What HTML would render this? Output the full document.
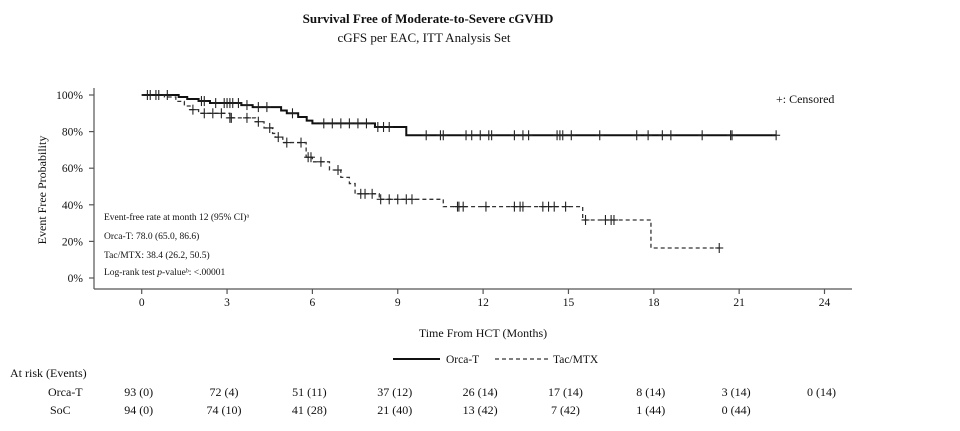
<!DOCTYPE html>
<html><head><meta charset="utf-8"><style>
html,body{margin:0;padding:0;background:#fff;width:960px;height:431px;overflow:hidden}
svg{display:block}
text{font-family:"Liberation Serif",serif;fill:#111}
</style></head><body>
<svg id="s" width="960" height="431" viewBox="0 0 960 431" xmlns="http://www.w3.org/2000/svg">
<text x="428" y="23" text-anchor="middle" font-size="13" font-weight="bold">Survival Free of Moderate-to-Severe cGVHD</text>
<text x="424" y="42" text-anchor="middle" font-size="13">cGFS per EAC, ITT Analysis Set</text>
<g stroke="#555" stroke-width="1.2" fill="none">
<line x1="94" y1="88" x2="94" y2="289"/>
<line x1="94" y1="289" x2="852" y2="289"/>
</g>
<g id="yt" font-size="11.5" text-anchor="end"></g>
<g id="xt" font-size="11.5" text-anchor="middle"></g>
<text transform="translate(46,190) rotate(-90)" text-anchor="middle" font-size="12">Event Free Probability</text>
<text x="483" y="337" text-anchor="middle" font-size="12">Time From HCT (Months)</text>
<text x="776" y="103" font-size="12">+: Censored</text>
<g font-size="9.5">
<text x="104" y="220">Event-free rate at month 12 (95% CI)ᵃ</text>
<text x="104" y="239">Orca-T: 78.0 (65.0, 86.6)</text>
<text x="104" y="258">Tac/MTX: 38.4 (26.2, 50.5)</text>
<text x="104" y="275">Log-rank test <tspan font-style="italic">p</tspan>-valueᵇ: &lt;.00001</text>
</g>
<path id="orca" fill="none" stroke="#111" stroke-width="2"/>
<path id="tac" fill="none" stroke="#333" stroke-width="1.3" stroke-dasharray="4,3"/>
<g id="cens" stroke="#222" stroke-width="1.1"></g>
<line x1="393" y1="359" x2="440" y2="359" stroke="#111" stroke-width="2"/>
<text x="446" y="363" font-size="11.5">Orca-T</text>
<line x1="495" y1="359" x2="548" y2="359" stroke="#333" stroke-width="1.3" stroke-dasharray="4,3"/>
<text x="553" y="363" font-size="11.5">Tac/MTX</text>
<g font-size="12">
<text x="10" y="377">At risk (Events)</text>
<text x="48" y="396">Orca-T</text>
<text x="50" y="414">SoC</text>
</g>
<g id="risk" font-size="12" text-anchor="middle"></g>
</svg>
<script>
var NS="http://www.w3.org/2000/svg";
function X(m){return 141.7+28.45*m}
function Y(p){return 278-1.83*p}
function el(parent,tag,attrs,txt){var e=document.createElementNS(NS,tag);for(var k in attrs)e.setAttribute(k,attrs[k]);if(txt!==undefined)e.textContent=txt;document.getElementById(parent).appendChild(e);return e}
[0,20,40,60,80,100].forEach(function(p){var y=Y(p);el('yt','text',{x:83,y:y+4},p+'%');el('s','line',{x1:89,y1:y,x2:94,y2:y,stroke:'#555','stroke-width':1.2});});
[0,3,6,9,12,15,18,21,24].forEach(function(m){var x=X(m);el('xt','text',{x:x,y:306},m);el('s','line',{x1:x,y1:289,x2:x,y2:294,stroke:'#555','stroke-width':1.2});});
function step(pts,end){var d='M'+X(0)+','+Y(pts[0][1]);for(var i=1;i<pts.length;i++){d+=' H'+X(pts[i][0])+' V'+Y(pts[i][1]);}d+=' H'+X(end);return d}
var orca=[[0,100],[1.3,98.9],[1.6,97.8],[2.0,96.7],[2.4,95.6],[3.5,94.5],[3.9,93.4],[4.9,91.5],[5.1,90],[5.5,88],[5.8,86],[6.0,84.5],[8.2,82.5],[9.3,78]];
var tac=[[0,100],[0.8,98.9],[1.2,96.5],[1.5,94],[1.7,92],[2.0,90],[3.1,87.5],[4.0,85.4],[4.3,82],[4.6,79],[4.7,77],[4.96,74],[5.78,66],[6.0,63.5],[6.6,59],[7.0,55],[7.3,51.6],[7.5,46],[8.35,43],[10.6,39],[15.5,31.7],[17.9,16.4]];
document.getElementById('orca').setAttribute('d',step(orca,22.3));
document.getElementById('tac').setAttribute('d',step(tac,20.3));
function val(pts,m){var v=pts[0][1];for(var i=0;i<pts.length;i++){if(pts[i][0]<=m)v=pts[i][1];}return v}
function cens(pts,ms){ms.forEach(function(m){var x=X(m),y=Y(val(pts,m));el('cens','line',{x1:x-4,y1:y,x2:x+4,y2:y});el('cens','line',{x1:x,y1:y-5,x2:x,y2:y+5});});}
cens(orca,[0.2,0.5,0.9,2.1,2.2,2.6,2.9,3.0,3.1,3.2,3.4,3.7,4.1,4.4,5.3,6.4,6.7,7.0,7.3,7.6,7.9,8.3,8.5,8.7,10.0,10.5,10.6,11.4,11.6,11.9,12.2,12.3,13.1,13.4,13.6,14.6,14.7,14.8,15.1,16.1,17.4,17.8,18.3,18.6,19.7,20.7,20.75,22.3]);
cens(tac,[0.3,0.6,1.8,2.2,2.5,2.8,3.1,3.15,3.7,4.1,4.5,4.8,5.1,5.6,5.85,5.95,6.3,6.9,7.7,7.85,8.1,8.4,8.7,9.0,9.3,9.5,11.1,11.15,11.3,12.1,13.1,13.3,13.4,14.1,14.3,14.5,14.9,15.6,16.3,16.5,16.6,20.3]);
var o=['93 (0)','72 (4)','51 (11)','37 (12)','26 (14)','17 (14)','8 (14)','3 (14)','0 (14)'];
var s=['94 (0)','74 (10)','41 (28)','21 (40)','13 (42)','7 (42)','1 (44)','0 (44)'];
o.forEach(function(t,i){el('risk','text',{x:X(3*i)-3,y:396},t)});
s.forEach(function(t,i){el('risk','text',{x:X(3*i)-3,y:414},t)});
</script>
</body></html>
